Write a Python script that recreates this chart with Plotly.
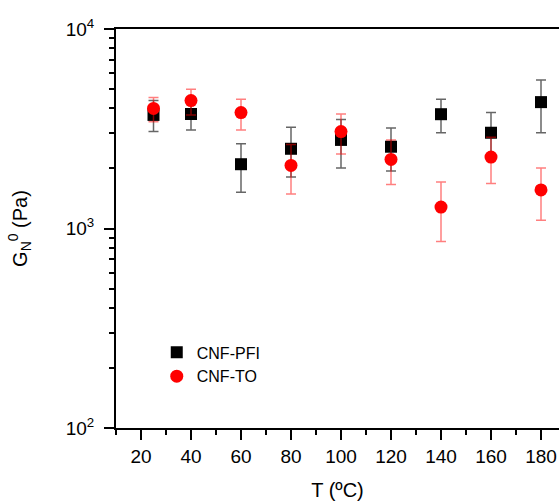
import plotly.graph_objects as go

# Data
temps = [25, 40, 60, 80, 100, 120, 140, 160, 180]

pfi_mean = [3710, 3750, 2100, 2510, 2780, 2570, 3740, 3020, 4300]
pfi_upper = [4380, 4330, 2660, 3220, 3520, 3190, 4450, 3820, 5550]
pfi_lower = [3060, 3120, 1520, 1810, 2010, 1940, 3020, 2280, 3020]

to_mean = [4000, 4380, 3810, 2070, 3060, 2220, 1280, 2280, 1560]
to_upper = [4530, 4990, 4450, 2640, 3750, 2780, 1710, 2870, 2010]
to_lower = [3430, 3710, 3120, 1490, 2360, 1660, 860, 1680, 1100]

x_ticks = [20, 40, 60, 80, 100, 120, 140, 160, 180]
x_minor = [10, 30, 50, 70, 90, 110, 130, 150, 170]
y_ticks = [100, 1000, 10000]
y_ticktext = ["10<sup>2</sup>", "10<sup>3</sup>", "10<sup>4</sup>"]
y_minor = [m * 10 ** e for e in (2, 3) for m in range(2, 10)]

FONT = "Liberation Sans, Arial, sans-serif"

def errs(mean, up, lo):
    return [u - m for u, m in zip(up, mean)], [m - l for m, l in zip(mean, lo)]

pfi_plus, pfi_minus = errs(pfi_mean, pfi_upper, pfi_lower)
to_plus, to_minus = errs(to_mean, to_upper, to_lower)

fig = go.Figure()
fig.add_trace(go.Scatter(
    x=temps, y=pfi_mean, mode="markers", name="CNF-PFI",
    marker=dict(symbol="square", size=12, color="black"),
    error_y=dict(type="data", symmetric=False, array=pfi_plus, arrayminus=pfi_minus,
                 color="rgba(0,0,0,0.6)", thickness=1.5, width=5),
))
fig.add_trace(go.Scatter(
    x=temps, y=to_mean, mode="markers", name="CNF-TO",
    marker=dict(symbol="circle", size=13, color="red"),
    error_y=dict(type="data", symmetric=False, array=to_plus, arrayminus=to_minus,
                 color="rgba(255,0,0,0.5)", thickness=1.5, width=5),
))

fig.update_layout(
    width=559, height=503,
    margin=dict(l=116, r=0, t=29, b=75),
    paper_bgcolor="white", plot_bgcolor="white",
    font=dict(family=FONT, size=19, color="black"),
    showlegend=True,
    legend=dict(x=0.092, y=0.232, xanchor="left", yanchor="top",
                font=dict(size=16), bgcolor="rgba(0,0,0,0)",
                tracegroupgap=0, itemwidth=30),
)
fig.update_xaxes(
    range=[10, 187.2], showgrid=False, zeroline=False,
    showline=True, linecolor="black", linewidth=2, mirror=True,
    ticks="outside", ticklen=10, tickwidth=1.5, tickcolor="black",
    tickvals=x_ticks, ticktext=[str(v) for v in x_ticks],
    minor=dict(ticks="outside", ticklen=5, tickwidth=1.5, tickcolor="black", tickvals=x_minor, showgrid=False),
    title=dict(text="T (ºC)", font=dict(size=20), standoff=17),
    tickfont=dict(size=19),
)
fig.update_yaxes(
    type="log", range=[2, 4], showgrid=False, zeroline=False,
    showline=True, linecolor="black", linewidth=2, mirror=False,
    ticks="outside", ticklen=10, tickwidth=1.5, tickcolor="black",
    tickvals=y_ticks, ticktext=y_ticktext, ticklabelstandoff=6,
    minor=dict(ticks="outside", ticklen=5, tickwidth=1.5, tickcolor="black", tickvals=y_minor, showgrid=False),
    title=dict(text="G<sub>N</sub><sup>0</sup> (Pa)", font=dict(size=20), standoff=33),
    tickfont=dict(size=19),
)

# remove the default page margin so the figure sits at the window's top-left corner
fig.write_html("out.html", config={"displayModeBar": False},
               post_script="document.body.style.margin='0';document.body.style.overflow='hidden';")
